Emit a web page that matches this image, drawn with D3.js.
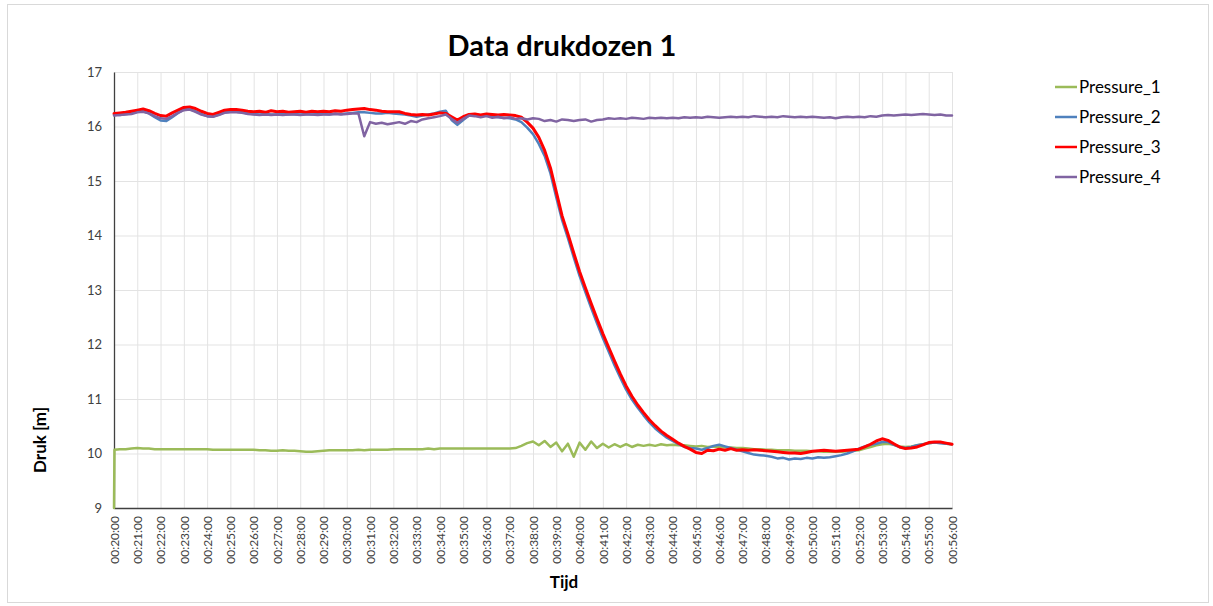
<!DOCTYPE html>
<html>
<head>
<meta charset="utf-8">
<script src="https://cdn.jsdelivr.net/npm/d3@7"></script>
<style>
  html, body { margin: 0; padding: 0; background: #ffffff; }
  svg { display: block; font-family: Lato, "Open Sans", sans-serif; }
</style>
</head>
<body>
<svg id="chart" width="1213" height="606"></svg>
<script>
// ---- data (time in minutes after 00:00:00) ----
const minutes = [
  20, 20.02, 20.25, 20.5, 20.75,
  21, 21.25, 21.5, 21.75, 22, 22.25, 22.5, 22.75, 23, 23.25, 23.5, 23.75,
  24, 24.25, 24.5, 24.75, 25, 25.25, 25.5, 25.75, 26, 26.25, 26.5, 26.75,
  27, 27.25, 27.5, 27.75, 28, 28.25, 28.5, 28.75, 29, 29.25, 29.5, 29.75,
  30, 30.25, 30.5, 30.75, 31, 31.25, 31.5, 31.75, 32, 32.25, 32.5, 32.75,
  33, 33.25, 33.5, 33.75, 34, 34.25, 34.5, 34.75, 35, 35.25, 35.5, 35.75,
  36, 36.25, 36.5, 36.75, 37, 37.25, 37.5, 37.75, 38, 38.25, 38.5, 38.75,
  39, 39.25, 39.5, 39.75, 40, 40.25, 40.5, 40.75, 41, 41.25, 41.5, 41.75,
  42, 42.25, 42.5, 42.75, 43, 43.25, 43.5, 43.75, 44, 44.25, 44.5, 44.75,
  45, 45.25, 45.5, 45.75, 46, 46.25, 46.5, 46.75, 47, 47.25, 47.5, 47.75,
  48, 48.25, 48.5, 48.75, 49, 49.25, 49.5, 49.75, 50, 50.25, 50.5, 50.75,
  51, 51.25, 51.5, 51.75, 52, 52.25, 52.5, 52.75, 53, 53.25, 53.5, 53.75,
  54, 54.25, 54.5, 54.75, 55, 55.25, 55.5, 55.75, 56
];

const pressure1 = [
  9.00, 10.07, 10.08, 10.08, 10.09,
  10.10, 10.09, 10.09, 10.08, 10.08, 10.08, 10.08, 10.08, 10.08, 10.08, 10.08, 10.08,
  10.08, 10.07, 10.07, 10.07, 10.07, 10.07, 10.07, 10.07, 10.07, 10.06, 10.06, 10.05,
  10.05, 10.06, 10.05, 10.05, 10.04, 10.03, 10.03, 10.04, 10.05, 10.06, 10.06, 10.06,
  10.06, 10.06, 10.07, 10.06, 10.07, 10.07, 10.07, 10.07, 10.08, 10.08, 10.08, 10.08,
  10.08, 10.08, 10.09, 10.08, 10.09, 10.09, 10.09, 10.09, 10.09, 10.09, 10.09, 10.09,
  10.09, 10.09, 10.09, 10.09, 10.09, 10.10, 10.14, 10.19, 10.22, 10.15, 10.23, 10.12,
  10.20, 10.04, 10.18, 9.94, 10.20, 10.07, 10.22, 10.10, 10.18, 10.11, 10.17, 10.12,
  10.17, 10.12, 10.16, 10.14, 10.16, 10.14, 10.17, 10.15, 10.16, 10.15, 10.15, 10.14,
  10.13, 10.14, 10.12, 10.13, 10.12, 10.11, 10.11, 10.10, 10.10, 10.09, 10.08, 10.08,
  10.07, 10.07, 10.06, 10.06, 10.06, 10.05, 10.05, 10.05, 10.04, 10.04, 10.03, 10.03,
  10.03, 10.03, 10.04, 10.05, 10.06, 10.09, 10.12, 10.15, 10.17, 10.18, 10.16, 10.13,
  10.12, 10.13, 10.15, 10.17, 10.19, 10.20, 10.20, 10.18, 10.17
];

const pressure2 = [
  16.22, 16.22, 16.21, 16.23, 16.24,
  16.27, 16.28, 16.24, 16.17, 16.11, 16.10, 16.17, 16.25, 16.31, 16.32, 16.28, 16.23,
  16.19, 16.18, 16.22, 16.26, 16.27, 16.27, 16.26, 16.24, 16.23, 16.22, 16.23, 16.22,
  16.22, 16.23, 16.22, 16.23, 16.22, 16.23, 16.22, 16.23, 16.23, 16.22, 16.24, 16.23,
  16.24, 16.25, 16.26, 16.26, 16.25, 16.24, 16.24, 16.25, 16.24, 16.23, 16.22, 16.20,
  16.18, 16.20, 16.22, 16.24, 16.27, 16.29, 16.12, 16.03, 16.12, 16.20, 16.22, 16.19,
  16.21, 16.18, 16.17, 16.16, 16.15, 16.13, 16.08, 15.98, 15.86, 15.68, 15.46, 15.14,
  14.70, 14.28, 13.95, 13.60, 13.26, 12.96, 12.67, 12.39, 12.12, 11.87, 11.62, 11.39,
  11.17, 10.99, 10.84, 10.70, 10.57, 10.46, 10.37, 10.29, 10.23, 10.17, 10.12, 10.10,
  10.09, 10.07, 10.10, 10.14, 10.16, 10.13, 10.10, 10.07, 10.04, 10.01, 9.98, 9.97,
  9.96, 9.94, 9.91, 9.92, 9.89, 9.91, 9.90, 9.92, 9.91, 9.93, 9.92, 9.93,
  9.95, 9.97, 10.00, 10.04, 10.09, 10.13, 10.16, 10.18, 10.21, 10.21, 10.16, 10.12,
  10.10, 10.12, 10.15, 10.17, 10.19, 10.20, 10.19, 10.18, 10.17
];

const pressure3 = [
  16.24, 16.24, 16.25, 16.26, 16.28,
  16.30, 16.32, 16.29, 16.24, 16.20, 16.19, 16.25, 16.30, 16.35, 16.36, 16.33, 16.28,
  16.24, 16.22, 16.26, 16.30, 16.31, 16.31, 16.30, 16.28, 16.27, 16.28, 16.26, 16.29,
  16.27, 16.28, 16.26, 16.27, 16.28, 16.26, 16.28, 16.27, 16.28, 16.27, 16.29, 16.28,
  16.30, 16.31, 16.32, 16.33, 16.31, 16.30, 16.28, 16.27, 16.27, 16.27, 16.24, 16.22,
  16.21, 16.22, 16.21, 16.23, 16.25, 16.24, 16.18, 16.12, 16.18, 16.22, 16.23, 16.21,
  16.23, 16.22, 16.21, 16.22, 16.21, 16.20, 16.17, 16.08, 15.97, 15.80, 15.56, 15.24,
  14.80, 14.36, 14.03, 13.68, 13.34, 13.04, 12.75, 12.47, 12.20, 11.95, 11.70, 11.46,
  11.24, 11.05, 10.89, 10.75, 10.62, 10.51, 10.41, 10.33, 10.26, 10.19, 10.13, 10.08,
  10.02, 10.00, 10.06, 10.05, 10.08, 10.06, 10.09, 10.06, 10.07, 10.06, 10.07, 10.06,
  10.05, 10.04, 10.03, 10.02, 10.01, 10.01, 10.00, 10.02, 10.04, 10.05, 10.06, 10.05,
  10.04, 10.05, 10.06, 10.07, 10.08, 10.12, 10.17, 10.23, 10.27, 10.24, 10.18, 10.12,
  10.09, 10.10, 10.12, 10.16, 10.20, 10.21, 10.21, 10.19, 10.17
];

const pressure4 = [
  16.20, 16.20, 16.21, 16.22, 16.23,
  16.26, 16.27, 16.24, 16.19, 16.15, 16.14, 16.19, 16.25, 16.30, 16.31, 16.27, 16.22,
  16.19, 16.18, 16.21, 16.25, 16.26, 16.26, 16.25, 16.23, 16.22, 16.21, 16.22, 16.21,
  16.22, 16.21, 16.22, 16.22, 16.21, 16.22, 16.22, 16.21, 16.22, 16.22, 16.23, 16.22,
  16.23, 16.24, 16.24, 15.82, 16.08, 16.05, 16.07, 16.04, 16.06, 16.08, 16.05, 16.10,
  16.08, 16.13, 16.15, 16.17, 16.19, 16.22, 16.14, 16.07, 16.14, 16.20, 16.19, 16.17,
  16.19, 16.16, 16.18, 16.15, 16.17, 16.14, 16.15, 16.13, 16.15, 16.14, 16.10, 16.12,
  16.09, 16.13, 16.12, 16.10, 16.12, 16.13, 16.09, 16.12, 16.13, 16.15, 16.14, 16.15,
  16.14, 16.16, 16.15, 16.14, 16.16, 16.15, 16.16, 16.15, 16.16, 16.15, 16.17, 16.16,
  16.17, 16.16, 16.18, 16.17, 16.16, 16.17, 16.18, 16.17, 16.18, 16.17, 16.19, 16.18,
  16.17, 16.18, 16.17, 16.19, 16.18, 16.17, 16.18, 16.17, 16.18, 16.17, 16.16, 16.17,
  16.15, 16.17, 16.18, 16.17, 16.18, 16.17, 16.19, 16.18, 16.20, 16.21, 16.20, 16.21,
  16.22, 16.21, 16.22, 16.23, 16.22, 16.21, 16.22, 16.20, 16.20
];

const seriesNames = ["Pressure_1", "Pressure_2", "Pressure_3", "Pressure_4"];
const seriesColors = ["#9BBB59", "#4F81BD", "#FF0000", "#8064A2"];
const seriesWidths = [2.5, 2.5, 3, 2.5];

const xTickMinutes = [20,21,22,23,24,25,26,27,28,29,30,31,32,33,34,35,36,37,38,
                      39,40,41,42,43,44,45,46,47,48,49,50,51,52,53,54,55,56];
const xTickLabels = ["00:20:00","00:21:00","00:22:00","00:23:00","00:24:00","00:25:00",
  "00:26:00","00:27:00","00:28:00","00:29:00","00:30:00","00:31:00","00:32:00","00:33:00",
  "00:34:00","00:35:00","00:36:00","00:37:00","00:38:00","00:39:00","00:40:00","00:41:00",
  "00:42:00","00:43:00","00:44:00","00:45:00","00:46:00","00:47:00","00:48:00","00:49:00",
  "00:50:00","00:51:00","00:52:00","00:53:00","00:54:00","00:55:00","00:56:00"];
const yTicks = [9, 10, 11, 12, 13, 14, 15, 16, 17];

const titleText = "Data drukdozen 1";
const xTitle = "Tijd";
const yTitle = "Druk [m]";

// ---- drawing ----
const svg = d3.select("#chart");
const W = 1213, H = 606;
const plot = { left: 114, right: 952, top: 72, bottom: 508 };

svg.append("rect").attr("x", 7.5).attr("y", 4.5).attr("width", W - 12).attr("height", H - 8)
  .attr("fill", "#ffffff").attr("stroke", "#d9d9d9").attr("stroke-width", 1);

const x = d3.scaleLinear().domain([20, 56]).range([plot.left, plot.right]);
const y = d3.scaleLinear().domain([9, 17]).range([plot.bottom, plot.top]);

// gridlines
svg.append("g").attr("class", "vgrid")
  .attr("transform", `translate(0,${plot.bottom})`)
  .call(d3.axisBottom(x).tickValues(xTickMinutes).tickSize(-(plot.bottom - plot.top)).tickFormat(""))
  .call(g => g.select(".domain").remove())
  .call(g => g.selectAll("line").attr("stroke", "#e3e3e3").attr("stroke-width", 1));

svg.append("g").attr("class", "hgrid")
  .attr("transform", `translate(${plot.left},0)`)
  .call(d3.axisLeft(y).tickValues(yTicks).tickSize(-(plot.right - plot.left)).tickFormat(""))
  .call(g => g.select(".domain").remove())
  .call(g => g.selectAll("line").attr("stroke", "#e3e3e3").attr("stroke-width", 1));

// y axis
const yAxis = svg.append("g")
  .attr("transform", `translate(${plot.left},0)`)
  .call(d3.axisLeft(y).tickValues(yTicks).tickSize(0).tickPadding(12).tickFormat(d3.format("d")));
yAxis.select(".domain").attr("stroke", "#404040").attr("stroke-width", 1.3);
yAxis.selectAll("text").attr("font-size", 13).attr("fill", "#404040")
  .attr("font-family", "Lato, 'Open Sans', sans-serif");

// x axis
const xAxis = svg.append("g")
  .attr("transform", `translate(0,${plot.bottom})`)
  .call(d3.axisBottom(x).tickValues(xTickMinutes).tickSize(0)
    .tickFormat((d, i) => xTickLabels[i]));
xAxis.select(".domain").attr("stroke", "#404040").attr("stroke-width", 1.3);
xAxis.selectAll("text")
  .attr("font-size", 12).attr("fill", "#404040")
  .attr("font-family", "Lato, 'Open Sans', sans-serif")
  .attr("text-anchor", "end")
  .attr("dy", "0.35em")
  .attr("transform", "translate(0,8) rotate(-90)")
  .attr("x", 0).attr("y", 0);

// lines
const seriesValues = [pressure1, pressure2, pressure3, pressure4];
const line = d3.line().x(d => x(d[0])).y(d => y(d[1]));
seriesValues.forEach((vals, s) => {
  const pts = minutes.map((t, i) => [t, vals[i]]).filter(p => p[1] !== undefined);
  svg.append("path").datum(pts)
    .attr("d", line)
    .attr("fill", "none")
    .attr("stroke", seriesColors[s])
    .attr("stroke-width", seriesWidths[s])
    .attr("stroke-linejoin", "round")
    .attr("stroke-linecap", "round");
});

// title
svg.append("text").attr("x", 562).attr("y", 56).attr("text-anchor", "middle")
  .attr("font-size", 29).attr("font-weight", "bold").attr("fill", "#000")
  .text(titleText);

// axis titles
svg.append("text").attr("x", 564).attr("y", 588).attr("text-anchor", "middle")
  .attr("font-size", 17).attr("font-weight", "bold").attr("fill", "#000")
  .text(xTitle);
svg.append("text").attr("transform", "translate(46,440) rotate(-90)").attr("text-anchor", "middle")
  .attr("font-size", 17).attr("font-weight", "bold").attr("fill", "#000")
  .text(yTitle);

// legend
const legend = svg.append("g");
seriesNames.forEach((name, i) => {
  const cy = 87 + i * 30;
  legend.append("line").attr("x1", 1055).attr("x2", 1077).attr("y1", cy).attr("y2", cy)
    .attr("stroke", seriesColors[i]).attr("stroke-width", 2.5);
  legend.append("text").attr("x", 1079).attr("y", cy).attr("dy", "0.35em")
    .attr("font-size", 17).attr("fill", "#000").text(name);
});
</script>
</body>
</html>
